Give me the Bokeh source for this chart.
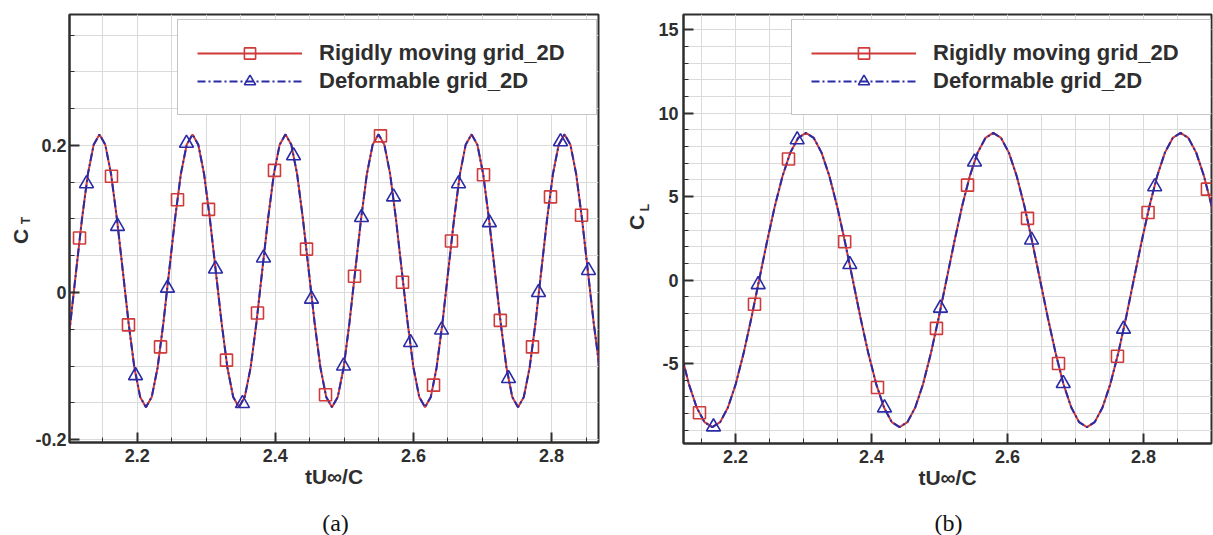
import numpy as np
from math import pi

from bokeh.plotting import figure
from bokeh.layouts import row, column
from bokeh.models import (Range1d, FixedTicker, NumeralTickFormatter, Legend,
                          LegendItem, Label)
from bokeh.embed import file_html
from bokeh.resources import INLINE

# ---------------------------------------------------------------------------
# (a) thrust coefficient C_T against tU∞/C
# ---------------------------------------------------------------------------
# traced curve (both grids give the same trace at this scale)
ct_t = [2.0949, 2.1033, 2.1117, 2.1201, 2.1286, 2.1370,
        2.1454, 2.1538, 2.1622, 2.1707, 2.1791, 2.1875, 2.1959, 2.2043,
        2.2127, 2.2211, 2.2296, 2.2380, 2.2464, 2.2548, 2.2632, 2.2717,
        2.2801, 2.2885, 2.2969, 2.3053, 2.3137, 2.3222, 2.3306, 2.3390,
        2.3474, 2.3558, 2.3643, 2.3727, 2.3811, 2.3895, 2.3979, 2.4063,
        2.4148, 2.4232, 2.4316, 2.4400, 2.4484, 2.4569, 2.4653, 2.4737,
        2.4821, 2.4905, 2.4990, 2.5074, 2.5158, 2.5242, 2.5326, 2.5410,
        2.5495, 2.5579, 2.5663, 2.5747, 2.5831, 2.5916, 2.6000, 2.6084,
        2.6168, 2.6252, 2.6336, 2.6421, 2.6505, 2.6589, 2.6673, 2.6757,
        2.6842, 2.6926, 2.7010, 2.7094, 2.7178, 2.7263, 2.7347, 2.7431,
        2.7515, 2.7599, 2.7683, 2.7768, 2.7852, 2.7936, 2.8020, 2.8104,
        2.8189, 2.8273, 2.8357, 2.8441, 2.8525, 2.8610, 2.8694]
ct_line = [-0.102, -0.041, 0.030, 0.100, 0.161, 0.201,
           0.215, 0.201, 0.161, 0.100, 0.030, -0.041, -0.102, -0.142,
           -0.156, -0.142, -0.102, -0.041, 0.030, 0.100, 0.161, 0.201,
           0.215, 0.201, 0.161, 0.100, 0.030, -0.041, -0.102, -0.142,
           -0.156, -0.142, -0.102, -0.041, 0.030, 0.100, 0.161, 0.201,
           0.215, 0.201, 0.161, 0.100, 0.030, -0.041, -0.102, -0.142,
           -0.156, -0.142, -0.102, -0.041, 0.030, 0.100, 0.161, 0.201,
           0.215, 0.201, 0.161, 0.100, 0.030, -0.041, -0.102, -0.142,
           -0.156, -0.142, -0.102, -0.041, 0.030, 0.100, 0.161, 0.201,
           0.215, 0.201, 0.161, 0.100, 0.030, -0.041, -0.102, -0.142,
           -0.156, -0.142, -0.102, -0.041, 0.030, 0.100, 0.161, 0.201,
           0.215, 0.201, 0.161, 0.100, 0.030, -0.041, -0.102]

# symbols: rigidly moving grid (squares)
ct_rigid_t = [2.1165, 2.1628, 2.1874, 2.2338, 2.2584, 2.3033, 2.3293,
              2.3742, 2.3988, 2.4452, 2.4727, 2.5147, 2.5523, 2.5842,
              2.6291, 2.6551, 2.7015, 2.7258, 2.7724, 2.7985, 2.8434]
ct_rigid = [0.074, 0.158, -0.044, -0.074, 0.126, 0.113, -0.092,
            -0.028, 0.166, 0.059, -0.139, 0.022, 0.213, 0.014,
            -0.126, 0.070, 0.160, -0.038, -0.074, 0.130, 0.105]

# symbols: deformable grid (triangles)
ct_deform_t = [2.1266, 2.1715, 2.1976, 2.2439, 2.2714, 2.3134, 2.3525,
               2.3829, 2.4264, 2.4524, 2.4988, 2.5248, 2.5712, 2.5958,
               2.6407, 2.6653, 2.7100, 2.7377, 2.7811, 2.8130, 2.8535]
ct_deform = [0.148, 0.090, -0.113, 0.006, 0.203, 0.032, -0.151,
             0.047, 0.186, -0.009, -0.100, 0.102, 0.130, -0.068,
             -0.051, 0.148, 0.095, -0.117, 0.000, 0.205, 0.030]

ct_xticks = [2.2, 2.4, 2.6, 2.8]
ct_yticks = [-0.2, 0.0, 0.2]

# ---------------------------------------------------------------------------
# (b) lift coefficient C_L against tU∞/C
# ---------------------------------------------------------------------------
cl_t = [2.1200, 2.1314, 2.1429, 2.1544, 2.1659, 2.1774, 2.1888, 2.2003,
        2.2118, 2.2233, 2.2347, 2.2462, 2.2577, 2.2692, 2.2806, 2.2921,
        2.3036, 2.3151, 2.3265, 2.3380, 2.3495, 2.3610, 2.3725, 2.3839,
        2.3954, 2.4069, 2.4184, 2.4298, 2.4413, 2.4528, 2.4643, 2.4758,
        2.4872, 2.4987, 2.5102, 2.5217, 2.5331, 2.5446, 2.5561, 2.5676,
        2.5790, 2.5905, 2.6020, 2.6135, 2.6250, 2.6364, 2.6479, 2.6594,
        2.6709, 2.6823, 2.6938, 2.7053, 2.7168, 2.7282, 2.7397, 2.7512,
        2.7627, 2.7742, 2.7856, 2.7971, 2.8086, 2.8201, 2.8315, 2.8430,
        2.8545, 2.8660, 2.8775, 2.8889, 2.9004, 2.9119]
cl_line = [-4.41, -6.24, -7.64, -8.52, -8.82, -8.52, -7.64, -6.24,
           -4.41, -2.28, 0.00, 2.28, 4.41, 6.24, 7.64, 8.52,
           8.82, 8.52, 7.64, 6.24, 4.41, 2.28, 0.00, -2.28,
           -4.41, -6.24, -7.64, -8.52, -8.82, -8.52, -7.64, -6.24,
           -4.41, -2.28, 0.00, 2.28, 4.41, 6.24, 7.64, 8.52,
           8.82, 8.52, 7.64, 6.24, 4.41, 2.28, 0.00, -2.28,
           -4.41, -6.24, -7.64, -8.52, -8.82, -8.52, -7.64, -6.24,
           -4.41, -2.28, 0.00, 2.28, 4.41, 6.24, 7.64, 8.52,
           8.82, 8.52, 7.64, 6.24, 4.41, 2.28]

cl_rigid_t = [2.1470, 2.2279, 2.2779, 2.3605, 2.4088, 2.4955, 2.5412,
              2.6294, 2.6750, 2.7617, 2.8067, 2.8940]
cl_rigid = [-7.96, -1.45, 7.26, 2.30, -6.44, -2.90, 5.69,
            3.70, -5.00, -4.57, 4.05, 5.45]

cl_deform_t = [2.1676, 2.2334, 2.2907, 2.3681, 2.4191, 2.5014, 2.5515,
               2.6353, 2.6820, 2.7706, 2.8165]
cl_deform = [-8.80, -0.27, 8.41, 0.93, -7.66, -1.68, 7.08,
             2.40, -6.20, -2.94, 5.60]

cl_xticks = [2.2, 2.4, 2.6, 2.8]
cl_yticks = [-5, 0, 5, 10, 15]

series_names = ["Rigidly moving grid_2D", "Deformable grid_2D"]
x_title = "tU\u221e/C"

# ---------------------------------------------------------------------------
RED = "#d03a3a"
BLUE = "#2b2ba6"
INK = "#2e2e2e"
GRID = "#dadada"
SANS = "Liberation Sans"
PLOT_H = 500        # height of the chart strip
CAP_H = 35          # strip holding the (a)/(b) captions
TOP = 14            # space above each chart frame
LEG_H = 94


def text_strip(width, height, top=0, bottom=0):
    """Blank canvas; its frame uses pixel units (origin at frame bottom-left)."""
    f = figure(width=width, height=height, output_backend="svg",
               toolbar_location=None, x_axis_type=None, y_axis_type=None,
               x_range=Range1d(0, width),
               y_range=Range1d(0, height - top - bottom),
               min_border_left=0, min_border_right=0,
               min_border_top=top, min_border_bottom=bottom,
               background_fill_color="white", border_fill_color="white")
    f.outline_line_color = None
    f.grid.visible = False
    return f


def put_text(f, x, y, text, size, style="bold", font=SANS, angle=0.0,
             color=INK):
    f.add_layout(Label(x=x, y=y, text=text, angle=angle,
                       text_align="center", text_baseline="middle",
                       text_font=font, text_font_style=style,
                       text_font_size=size, text_color=color))


def y_title(width, bottom, sub, c_xy, sub_xy):
    # same top/bottom borders as the chart beside it, so the frames line up
    f = text_strip(width, PLOT_H, TOP, bottom)
    put_text(f, c_xy[0], c_xy[1], "C", "21px", angle=pi / 2)
    put_text(f, sub_xy[0], sub_xy[1], sub, "12px", angle=pi / 2)
    return f


def caption(width, text, x):
    f = text_strip(width, CAP_H)
    put_text(f, x, 13, text, "24px", style="normal",
             font="Liberation Serif", color="#111111")
    return f


def chart(width, borders, xr, yr, xticks, xminor, yticks, yminor, yfmt,
          t, line, rt, rv, dt, dv, ylab_standoff):
    left, right, top, bottom = borders
    p = figure(width=width, height=PLOT_H, output_backend="svg",
               toolbar_location=None, x_range=Range1d(*xr),
               y_range=Range1d(*yr), min_border_left=left,
               min_border_right=right, min_border_top=top,
               min_border_bottom=bottom, background_fill_color="white",
               border_fill_color="white")
    p.outline_line_color = INK
    p.outline_line_width = 2

    p.xaxis.ticker = FixedTicker(ticks=xticks, minor_ticks=xminor)
    p.yaxis.ticker = FixedTicker(ticks=yticks, minor_ticks=yminor)
    p.xaxis.formatter = NumeralTickFormatter(format="0.[0]")
    p.yaxis.formatter = NumeralTickFormatter(format=yfmt)
    for ax in (p.xaxis[0], p.yaxis[0]):
        ax.axis_line_color = INK
        ax.axis_line_width = 2
        ax.major_tick_in = 10
        ax.major_tick_out = 0
        ax.minor_tick_in = 5
        ax.minor_tick_out = 0
        ax.major_tick_line_color = INK
        ax.major_tick_line_width = 2
        ax.minor_tick_line_color = INK
        ax.minor_tick_line_width = 1
        ax.major_label_text_font = SANS
        ax.major_label_text_font_style = "bold"
        ax.major_label_text_font_size = "18px"
        ax.major_label_text_color = INK
        ax.major_label_standoff = 6
    p.yaxis.major_label_standoff = ylab_standoff
    p.xaxis.axis_label = x_title
    p.xaxis.axis_label_text_font = SANS
    p.xaxis.axis_label_text_font_style = "bold"
    p.xaxis.axis_label_text_font_size = "21px"
    p.xaxis.axis_label_text_color = INK
    p.xaxis.axis_label_standoff = 0

    for g in (p.xgrid, p.ygrid):
        g.grid_line_color = GRID
        g.grid_line_width = 1
        g.minor_grid_line_color = GRID
        g.minor_grid_line_width = 1

    r_line = p.line(t, line, line_color=RED, line_width=2)
    d_line = p.line(t, line, line_color=BLUE, line_width=2,
                    line_dash="8 3 2 3")
    r_sym = p.scatter(rt, rv, marker="square", size=12, line_color=RED,
                      line_width=1.6, fill_color=None)
    d_sym = p.scatter(dt, dv, marker="triangle", size=14, line_color=BLUE,
                      line_width=1.6, fill_color=None)

    # legend box: 108 px right of the frame's left edge, just under its top
    frame_h = PLOT_H - top - bottom
    legend = Legend(items=[LegendItem(label=series_names[0],
                                      renderers=[r_line, r_sym]),
                           LegendItem(label=series_names[1],
                                      renderers=[d_line, d_sym])],
                    location=(108, frame_h - 7 - LEG_H),
                    orientation="vertical",
                    padding=19, spacing=0, margin=0, glyph_width=105,
                    glyph_height=28, label_height=28, label_width=258,
                    label_standoff=17, label_text_font=SANS,
                    label_text_font_style="bold",
                    label_text_font_size="22px", label_text_color=INK,
                    label_text_baseline="middle",
                    border_line_color="#8a8a8a", border_line_width=1,
                    background_fill_color="white", background_fill_alpha=1)
    p.add_layout(legend)
    return p


x_minor = [round(v, 2) for v in np.arange(2.05, 2.951, 0.05)]

# panel (a): 606 px wide, frame from x=69 to 598, y=14 to 442
ya = y_title(32, 58, "T", (20, 206), (25, 222))
pa = chart(574, (37, 8, TOP, 58), (2.102, 2.868), (-0.204, 0.378),
           ct_xticks, x_minor, ct_yticks,
           [round(v, 2) for v in np.arange(-0.2, 0.401, 0.05)], "0.[0]",
           ct_t, ct_line, ct_rigid_t, ct_rigid, ct_deform_t, ct_deform, 3)
left_panel = column(row(ya, pa, spacing=0), caption(606, "(a)", 335),
                    spacing=0)

# panel (b): 607 px wide, frame from x=683 to 1211, y=14 to 443
yb = y_title(47, 57, "L", (29.5, 221), (38, 236))
pb = chart(560, (30, 2, TOP, 57), (2.1235, 2.9), (-9.8, 15.92),
           cl_xticks, x_minor, cl_yticks, list(range(-10, 17)), "0",
           cl_t, cl_line, cl_rigid_t, cl_rigid, cl_deform_t, cl_deform, 5)
right_panel = column(row(yb, pb, spacing=0), caption(607, "(b)", 342),
                     spacing=0)

layout = row(left_panel, right_panel, spacing=0)
open("out.html", "w").write(file_html(layout, INLINE))
